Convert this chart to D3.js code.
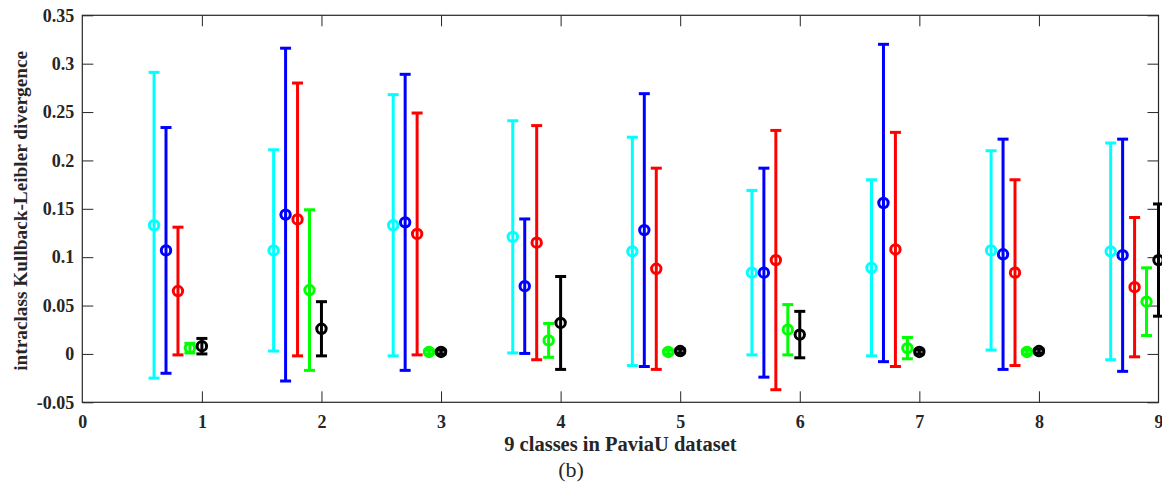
<!DOCTYPE html>
<html lang="en">

<head>
  <meta charset="UTF-8">
  <title>errorbar</title>
  <style>
    body { margin: 0; background: #fff; }
    text { font-family: "Liberation Serif", "Times New Roman", serif; fill: #262626; }
  </style>
</head>

<body>
  <svg></svg>
  <script src="https://cdn.jsdelivr.net/npm/d3@7"></script>
  <script>
    // 数据
    var classes = [1, 2, 3, 4, 5, 6, 7, 8, 9];
    var xTicks = [0, 1, 2, 3, 4, 5, 6, 7, 8, 9];
    var yTicks = [-0.05, 0, 0.05, 0.1, 0.15, 0.2, 0.25, 0.3, 0.35];
    var yTickLabels = ["-0.05", "0", "0.05", "0.1", "0.15", "0.2", "0.25", "0.3", "0.35"];
    var offsets = [-0.4, -0.3, -0.2, -0.1, 0];
    var colors = ["#00ffff", "#0000ff", "#ff0000", "#00ff00", "#000000"];

    var cyanMean = [0.133, 0.107, 0.133, 0.121, 0.106, 0.084, 0.089, 0.107, 0.106];
    var cyanErr = [0.158, 0.104, 0.135, 0.120, 0.118, 0.085, 0.091, 0.103, 0.112];
    var blueMean = [0.107, 0.144, 0.136, 0.070, 0.128, 0.084, 0.156, 0.103, 0.102];
    var blueErr = [0.127, 0.172, 0.153, 0.0695, 0.141, 0.108, 0.164, 0.119, 0.120];
    var redMean = [0.065, 0.139, 0.124, 0.115, 0.088, 0.097, 0.108, 0.084, 0.069];
    var redErr = [0.066, 0.141, 0.125, 0.121, 0.104, 0.134, 0.121, 0.096, 0.072];
    var greenMean = [0.006, 0.066, 0.002, 0.014, 0.002, 0.025, 0.006, 0.002, 0.054];
    var greenErr = [0.005, 0.083, 0.002, 0.0175, 0.002, 0.026, 0.011, 0.002, 0.035];
    var blackMean = [0.008, 0.026, 0.002, 0.032, 0.003, 0.020, 0.002, 0.003, 0.097];
    var blackErr = [0.008, 0.028, 0.002, 0.048, 0.002, 0.024, 0.002, 0.002, 0.058];

    var means = [cyanMean, blueMean, redMean, greenMean, blackMean];
    var errs = [cyanErr, blueErr, redErr, greenErr, blackErr];

    var xLabel = "9 classes in PaviaU dataset";
    var yLabel = "intraclass Kullback-Leibler divergence";
    var caption = "(b)";

    var width = 1162, height = 484;
    var plotLeft = 82.3, plotRight = 1158.5, plotTop = 15.3, plotBottom = 402.3;
    var tickLen = 11;

    var svg = d3.select("svg")
      .attr("width", width)
      .attr("height", height);

    var x = d3.scaleLinear().domain([0, 9]).range([plotLeft, plotRight]);
    var y = d3.scaleLinear().domain([-0.05, 0.35]).range([plotBottom, plotTop]);

    // 坐标轴 (刻度向内)
    var axisColor = "#262626";
    var gx = svg.append("g").attr("transform", `translate(0, ${plotBottom})`)
      .call(d3.axisBottom(x).tickValues(xTicks).tickSize(-tickLen).tickPadding(13).tickFormat(d3.format("d")));
    var gxTop = svg.append("g").attr("transform", `translate(0, ${plotTop})`)
      .call(d3.axisTop(x).tickValues(xTicks).tickSize(-tickLen).tickFormat(""));
    var gy = svg.append("g").attr("transform", `translate(${plotLeft}, 0)`)
      .call(d3.axisLeft(y).tickValues(yTicks).tickSize(-tickLen).tickPadding(8)
        .tickFormat(function(d, i) { return yTickLabels[i]; }));
    var gyRight = svg.append("g").attr("transform", `translate(${plotRight}, 0)`)
      .call(d3.axisRight(y).tickValues(yTicks).tickSize(-tickLen).tickFormat(""));

    [gx, gxTop, gy, gyRight].forEach(function(g) {
      g.select(".domain").remove();
      g.selectAll(".tick line").attr("stroke", axisColor);
      g.selectAll(".tick text")
        .attr("fill", axisColor)
        .attr("font-family", "Liberation Serif")
        .attr("font-weight", "bold")
        .attr("font-size", "18px");
    });
    // 首末刻度与边框重合, 去掉
    gx.selectAll(".tick line").filter(function(d) { return d === 0 || d === 9; }).remove();
    gxTop.selectAll(".tick line").filter(function(d) { return d === 0 || d === 9; }).remove();

    svg.append("rect")
      .attr("x", plotLeft).attr("y", plotTop)
      .attr("width", plotRight - plotLeft).attr("height", plotBottom - plotTop)
      .attr("fill", "none").attr("stroke", axisColor).attr("stroke-width", 1.2);

    // 误差棒
    var capHalf = 5.5, lw = 3, r = 4.7;
    colors.forEach(function(c, s) {
      var g = svg.append("g").attr("stroke", c).attr("stroke-width", lw).attr("fill", "none");
      var pts = classes.map(function(cl, i) {
        return { x: cl + offsets[s], m: means[s][i], e: errs[s][i] };
      });
      g.selectAll("line.bar").data(pts).join("line").attr("class", "bar")
        .attr("x1", d => x(d.x)).attr("x2", d => x(d.x))
        .attr("y1", d => y(d.m - d.e)).attr("y2", d => y(d.m + d.e));
      g.selectAll("line.capt").data(pts).join("line").attr("class", "capt")
        .attr("x1", d => x(d.x) - capHalf).attr("x2", d => x(d.x) + capHalf)
        .attr("y1", d => y(d.m + d.e)).attr("y2", d => y(d.m + d.e));
      g.selectAll("line.capb").data(pts).join("line").attr("class", "capb")
        .attr("x1", d => x(d.x) - capHalf).attr("x2", d => x(d.x) + capHalf)
        .attr("y1", d => y(d.m - d.e)).attr("y2", d => y(d.m - d.e));
      g.selectAll("circle").data(pts).join("circle")
        .attr("cx", d => x(d.x)).attr("cy", d => y(d.m)).attr("r", r);
    });

    // 标题
    svg.append("text")
      .attr("x", (plotLeft + plotRight) / 2).attr("y", 451)
      .attr("text-anchor", "middle")
      .attr("font-weight", "bold").attr("font-size", "20.5px")
      .text(xLabel);
    svg.append("text")
      .attr("x", 571).attr("y", 477)
      .attr("text-anchor", "middle")
      .attr("font-size", "22px")
      .text(caption);
    svg.append("text")
      .attr("transform", `translate(27, ${(plotTop + plotBottom) / 2 + 2}) rotate(-90)`)
      .attr("text-anchor", "middle")
      .attr("font-weight", "bold").attr("font-size", "19.3px")
      .text(yLabel);
  </script>
</body>

</html>
